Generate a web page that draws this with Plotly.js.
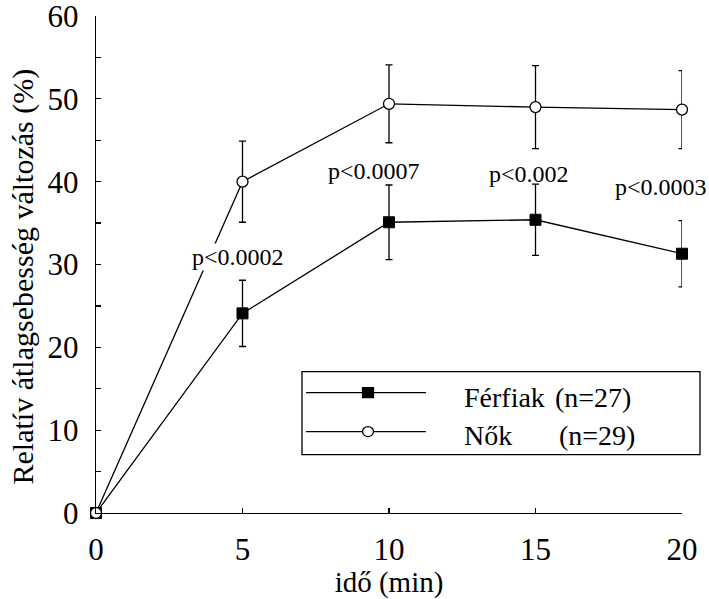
<!DOCTYPE html>
<html>
<head>
<meta charset="utf-8">
<script src="https://cdn.plot.ly/plotly-3.0.1.min.js"></script>
<style>html,body{margin:0;padding:0;background:#fff;}#chart{width:709px;height:599px;}</style>
</head>
<body>
<div id="chart"></div>
<script>
// ---- data ----
const timeMin = [0, 5, 10, 15, 20];
const ferfiakName = "Férfiak (n=27)";
const ferfiakValues = [0, 24.1, 35.1, 35.4, 31.3];
const ferfiakErr = [0, 4.0, 4.5, 4.3, 4.0];
const nokName = "Nők (n=29)";
const nokValues = [0, 40.0, 49.4, 49.0, 48.7];
const nokErr = [0, 4.9, 4.7, 5.0, 4.7];
const pLabels = ["p<0.0002", "p<0.0007", "p<0.002", "p<0.0003"];
const pLabelX = [4.85, 9.49, 14.78, 19.3];
const pLabelY = [30.9, 41.3, 40.9, 39.4];
const xTickVals = [0, 5, 10, 15, 20];
const xTitle = "idő (min)";
const yTitle = "Relatív átlagsebesség változás (%)";

const FONT = "Liberation Serif";

const errStyle = {type: 'data', visible: true, color: '#000', thickness: 1.3, width: 3.5};

const traces = [
  {
    x: timeMin, y: ferfiakValues, name: ferfiakName, type: 'scatter', mode: 'lines+markers',
    line: {color: '#000', width: 1.3},
    marker: {symbol: 'square', size: 11, color: '#000', line: {color: '#000', width: 1}},
    error_y: Object.assign({array: ferfiakErr}, errStyle),
    cliponaxis: false, showlegend: false
  },
  {
    x: timeMin, y: nokValues, name: nokName, type: 'scatter', mode: 'lines+markers',
    line: {color: '#000', width: 1.3},
    marker: {symbol: 'circle', size: 11, color: '#fff', line: {color: '#000', width: 1.3}},
    error_y: Object.assign({array: nokErr}, errStyle),
    cliponaxis: false, showlegend: false
  }
];

const annotations = pLabels.map((t, i) => ({
  x: pLabelX[i], y: pLabelY[i], xref: 'x', yref: 'y', text: t, showarrow: false,
  font: {family: FONT, size: 24, color: '#000'}, bgcolor: i === 0 ? '#fff' : 'rgba(0,0,0,0)',
  borderpad: 0, xanchor: 'center', yanchor: 'middle'
}));

// y-axis title placed as rotated annotation (slightly below plot centre, as in the original)
annotations.push({
  x: -0.1245, y: 0.476, xref: 'paper', yref: 'paper', text: yTitle, textangle: -90,
  showarrow: false, font: {family: FONT, size: 30, color: '#000'}, xanchor: 'center', yanchor: 'middle'
});

// custom legend (box, sample lines, glyphs, text) in paper units
const legBox = {x0: 0.3515, x1: 1.0307, y0: 0.1176, y1: 0.2844};
const legRows = [0.2422, 0.1638];
const legTextY = [0.2322, 0.1558];
const legLineX = [0.3584, 0.5631];
const legMarkX = 0.4642;
const legTextX = 0.6246;
const legNX = [0.7799, 0.7867];
const legNames = ["Férfiak", "Nők"];
const legN = ["(n=27)", "(n=29)"];

const shapes = [
  {type: 'rect', xref: 'paper', yref: 'paper', x0: legBox.x0, x1: legBox.x1, y0: legBox.y0, y1: legBox.y1,
   line: {color: '#000', width: 1.3}, fillcolor: '#fff', layer: 'above'}
];
legRows.forEach((ry, i) => {
  shapes.push({type: 'line', xref: 'paper', yref: 'paper', x0: legLineX[0], x1: legLineX[1], y0: ry, y1: ry,
    line: {color: '#000', width: 1.3}, layer: 'above'});
  shapes.push({type: i === 0 ? 'rect' : 'circle', xref: 'paper', yref: 'paper',
    xsizemode: 'pixel', ysizemode: 'pixel', xanchor: legMarkX, yanchor: ry,
    x0: -5.5, x1: 5.5, y0: -5, y1: 5,
    line: {color: '#000', width: 1.3}, fillcolor: i === 0 ? '#000' : '#fff', layer: 'above'});
  annotations.push({x: legTextX, y: legTextY[i], xref: 'paper', yref: 'paper', text: legNames[i], showarrow: false,
    font: {family: FONT, size: 28, color: '#000'}, xanchor: 'left', yanchor: 'middle'});
  annotations.push({x: legNX[i], y: legTextY[i], xref: 'paper', yref: 'paper', text: legN[i], showarrow: false,
    font: {family: FONT, size: 28, color: '#000'}, xanchor: 'left', yanchor: 'middle'});
});

const layout = {
  width: 709, height: 599,
  margin: {l: 96, r: 27, t: 16, b: 86},
  paper_bgcolor: '#fff', plot_bgcolor: '#fff',
  font: {family: FONT, size: 30, color: '#000'},
  showlegend: false,
  xaxis: {
    range: [0, 20], tickvals: xTickVals, ticks: 'inside', ticklen: 5, tickwidth: 1.3, tickcolor: '#000',
    showline: true, linecolor: '#000', linewidth: 1.3, showgrid: false, zeroline: false,
    ticklabelstandoff: 8, ticklabeloverflow: 'allow', tickfont: {family: FONT, size: 31},
    title: {text: xTitle, font: {family: FONT, size: 29}, standoff: 0}, automargin: false
  },
  yaxis: {
    range: [0, 60], dtick: 10, tick0: 0, ticks: 'inside', ticklen: 5, tickwidth: 1.3, tickcolor: '#000',
    minor: {dtick: 5, ticks: 'inside', ticklen: 5, tickwidth: 1.3, tickcolor: '#000', showgrid: false},
    showline: true, linecolor: '#000', linewidth: 1.3, showgrid: false, zeroline: false,
    ticklabelstandoff: 10, ticklabeloverflow: 'allow', tickfont: {family: FONT, size: 31},
    automargin: false
  },
  shapes: shapes,
  annotations: annotations
};

Plotly.newPlot('chart', traces, layout, {displayModeBar: false, staticPlot: true});
</script>
</body>
</html>
